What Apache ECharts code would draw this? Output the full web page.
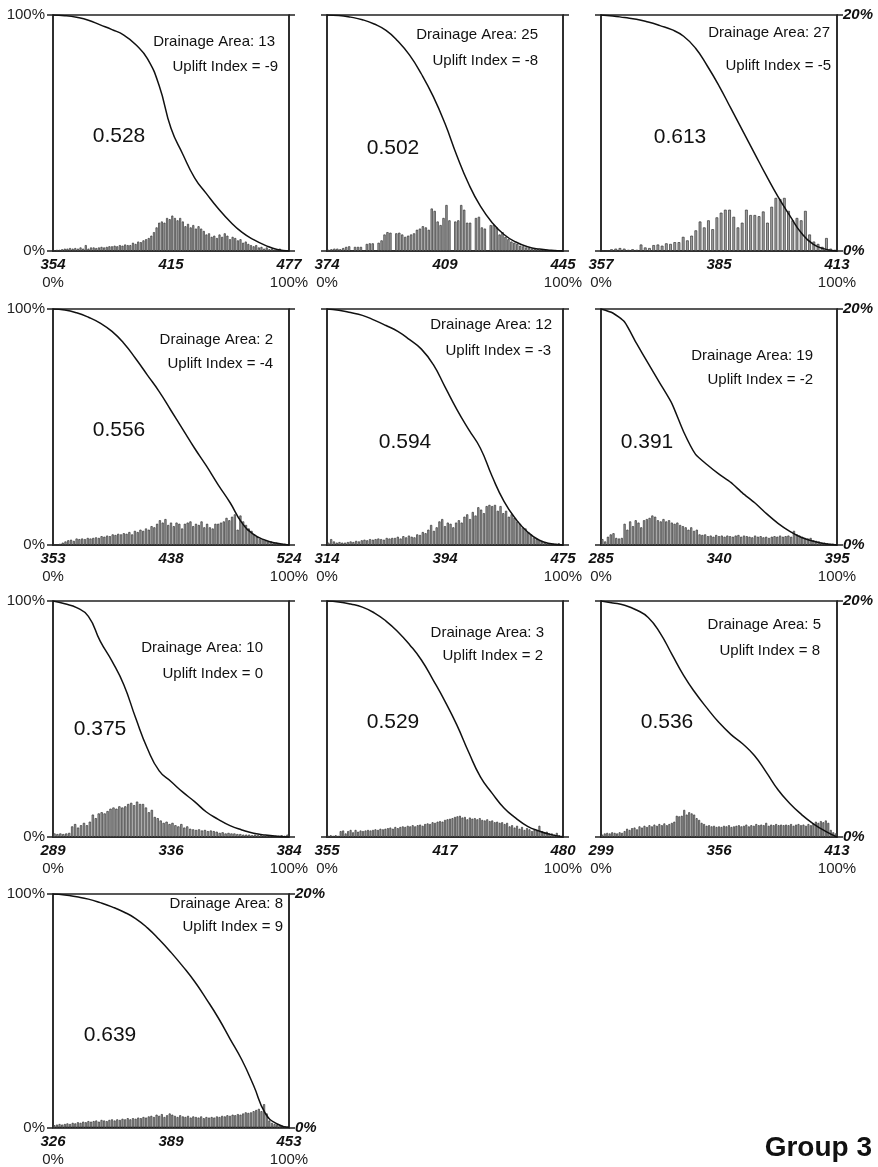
<!DOCTYPE html>
<html>
<head>
<meta charset="utf-8">
<title>Group 3</title>
<script src="https://cdn.jsdelivr.net/npm/echarts@6/dist/echarts.min.js"></script>
<style>
  html, body { margin: 0; padding: 0; background: #fff; }
  #chart { width: 878px; height: 1167px; }
</style>
</head>
<body>
<div id="chart"></div>
<script>
// panel labels
var elevMin = [354, 374, 357, 353, 314, 285, 289, 355, 299, 326];
var elevMid = [415, 409, 385, 438, 394, 340, 336, 417, 356, 389];
var elevMax = [477, 445, 413, 524, 475, 395, 384, 480, 413, 453];
var hiValues = ['0.528', '0.502', '0.613', '0.556', '0.594', '0.391', '0.375', '0.529', '0.536', '0.639'];
var drainageArea = [13, 25, 27, 2, 12, 19, 10, 3, 5, 8];
var upliftIndex = [-9, -8, -5, -4, -3, -2, 0, 2, 8, 9];

// hypsometric curves: relative height (%) at relative area curveX
var curveX = [0, 0.05, 0.1, 0.15, 0.2, 0.25, 0.3, 0.35, 0.4, 0.45, 0.5, 0.55, 0.6, 0.65, 0.7, 0.75, 0.8, 0.85, 0.9, 0.95, 1];
var curve1 = [100, 99.7, 99, 97.8, 95.8, 93.8, 91.5, 87.5, 81.5, 70, 52, 41, 31, 24.3, 18, 12.5, 8, 4.8, 2.4, 0.6, 0];
var curve2 = [100, 99.8, 99.1, 98, 96.2, 93.5, 89, 83, 75, 65.5, 54, 40.5, 28.5, 19, 12, 7, 3.8, 1.8, 0.8, 0.3, 0];
var curve3 = [100, 99.6, 98.9, 98.2, 97, 95.5, 93.8, 91, 86, 78.5, 70, 60.5, 51, 41.5, 32, 23, 15, 7.5, 2.8, 0.8, 0];
var curve4 = [100, 99.6, 98.4, 96.5, 94, 90.5, 85.5, 79, 72, 65, 57, 49, 41, 33.5, 25.5, 18, 9.5, 4.5, 2, 0.7, 0];
var curve5 = [100, 99.5, 98.5, 97.3, 95.3, 93, 90.5, 87, 83, 76.5, 67, 57.5, 49, 41, 29, 18.5, 11, 5.5, 2, 0.5, 0];
var curve6 = [100, 98.3, 94.5, 85.5, 77, 68.5, 60, 48, 38.5, 34, 30, 26.5, 22, 18, 13.4, 9.2, 5.8, 3.2, 1.6, 0.5, 0];
var curve7 = [100, 98.8, 97.2, 93.5, 83, 74.5, 64.5, 50.5, 37.5, 28, 23.5, 19, 15, 10.6, 7.5, 4.8, 3, 1.6, 0.8, 0.3, 0];
var curve8 = [100, 99.6, 98.7, 97.4, 95, 91.5, 87, 81.5, 75, 66.5, 57.5, 47.5, 36, 25.5, 18.5, 12.3, 8, 4.5, 2.5, 1, 0];
var curve9 = [100, 99.2, 98.2, 96.2, 93, 86.5, 77.5, 68.5, 61, 54.5, 48.5, 43.5, 39.5, 34.5, 27.5, 20, 14.2, 9.5, 5.6, 2.5, 0];
var curve10 = [100, 99.6, 98.8, 97.8, 96.3, 94.5, 92.3, 89.5, 85.5, 80.5, 75, 69, 62.5, 55, 47, 38, 29, 18, 6, 1.5, 0];

// elevation histograms (% of area per bin)
var hist1 = [0.05, 0.1, 0.1, 0.15, 0.2, 0.2, 0.25, 0.2, 0.25, 0.2, 0.3, 0.2, 0.5, 0.2, 0.3, 0.3, 0.25, 0.3, 0.35, 0.3,
  0.35, 0.4, 0.4, 0.45, 0.4, 0.5, 0.45, 0.55, 0.5, 0.5, 0.7, 0.6, 0.8, 0.75, 0.9, 1.0, 1.1, 1.3, 1.6, 2.0,
  2.4, 2.5, 2.4, 2.8, 2.7, 3.0, 2.8, 2.6, 2.8, 2.5, 2.1, 2.3, 2.0, 2.2, 1.9, 2.1, 1.9, 1.7, 1.4, 1.5,
  1.2, 1.3, 1.1, 1.4, 1.2, 1.5, 1.3, 1.0, 1.2, 1.1, 0.9, 1.0, 0.7, 0.8, 0.6, 0.5, 0.4, 0.5, 0.3, 0.35,
  0.2, 0.3, 0.15, 0.2, 0.1, 0.1, 0.2, 0.05, 0.05, 0.03];
var hist2 = [0.1, 0.15, 0.2, 0.2, 0.15, 0.25, 0.35, 0.4, 0, 0.35, 0.35, 0.35, 0, 0.6, 0.65, 0.65, 0, 0.7, 0.9, 1.4,
  1.6, 1.55, 0, 1.5, 1.55, 1.4, 1.2, 1.3, 1.4, 1.5, 1.8, 1.9, 2.1, 2.0, 1.8, 3.6, 3.4, 2.5, 2.2, 2.8,
  3.9, 2.6, 0, 2.5, 2.6, 3.9, 3.5, 2.4, 2.4, 0, 2.8, 2.9, 2.0, 1.9, 0, 2.2, 2.2, 2.0, 1.4, 1.6,
  1.2, 1.0, 0.8, 0.7, 0.6, 0.45, 0.4, 0.3, 0.25, 0.2, 0.2, 0.15, 0.1, 0.1, 0.1, 0.05, 0.05, 0.08, 0.05, 0.03];
var hist3 = [0.05, 0.05, 0.15, 0.2, 0.25, 0.2, 0.1, 0.15, 0.1, 0.55, 0.3, 0.25, 0.5, 0.55, 0.45, 0.65, 0.6, 0.75, 0.75, 1.2,
  0.9, 1.3, 1.75, 2.5, 2.0, 2.6, 1.85, 2.85, 3.25, 3.5, 3.5, 2.9, 2.0, 2.4, 3.5, 3.05, 3.05, 2.95, 3.35, 2.4,
  3.75, 4.5, 4.4, 4.5, 3.4, 2.6, 2.8, 2.6, 3.4, 1.4, 0.8, 0.6, 0.35, 1.1, 0.2, 0.1];
var hist4 = [0, 0.05, 0.1, 0.2, 0.3, 0.4, 0.45, 0.35, 0.55, 0.5, 0.55, 0.5, 0.6, 0.55, 0.6, 0.65, 0.6, 0.75, 0.7, 0.8,
  0.75, 0.9, 0.85, 0.95, 0.9, 1.0, 0.95, 1.1, 0.9, 1.2, 1.1, 1.3, 1.2, 1.4, 1.3, 1.6, 1.5, 1.8, 2.1, 1.9,
  2.2, 1.7, 1.9, 1.6, 1.9, 1.8, 1.4, 1.8, 1.9, 2.0, 1.6, 1.8, 1.7, 2.0, 1.5, 1.8, 1.5, 1.4, 1.8, 1.8,
  1.9, 2.0, 2.3, 2.1, 2.4, 2.6, 1.3, 2.5, 2.0, 1.7, 1.4, 1.2, 0.9, 0.7, 0.5, 0.5, 0.4, 0.3, 0.3, 0.2,
  0.2, 0.15, 0.1, 0.1, 0.05];
var hist5 = [0.2, 0.5, 0.3, 0.2, 0.25, 0.2, 0.2, 0.25, 0.3, 0.25, 0.35, 0.3, 0.4, 0.45, 0.4, 0.5, 0.45, 0.5, 0.55, 0.5,
  0.45, 0.6, 0.55, 0.6, 0.6, 0.7, 0.55, 0.75, 0.65, 0.8, 0.7, 0.65, 0.9, 0.85, 1.1, 1.0, 1.3, 1.7, 1.2, 1.5,
  2.0, 2.2, 1.6, 1.9, 1.8, 1.5, 1.9, 2.1, 1.9, 2.4, 2.6, 2.2, 2.8, 2.5, 3.2, 3.0, 2.7, 3.3, 3.4, 3.3,
  3.4, 2.9, 3.3, 2.7, 2.9, 2.4, 2.6, 2.3, 2.0, 1.8, 1.5, 1.4, 1.1, 0.9, 0.6, 0.5, 0.4, 0.3, 0.2, 0.15,
  0.15, 0.1, 0.1, 0.15, 0.05];
var hist6 = [0.5, 0.3, 0.7, 0.9, 1.0, 0.6, 0.55, 0.6, 1.8, 1.3, 2.0, 1.6, 2.1, 1.9, 1.5, 2.1, 2.2, 2.3, 2.5, 2.4,
  2.1, 2.0, 2.2, 2.0, 2.1, 1.9, 1.8, 1.9, 1.7, 1.6, 1.5, 1.3, 1.5, 1.2, 1.3, 0.9, 0.85, 0.9, 0.75, 0.8,
  0.7, 0.85, 0.75, 0.8, 0.7, 0.8, 0.75, 0.7, 0.8, 0.85, 0.7, 0.8, 0.75, 0.7, 0.65, 0.8, 0.7, 0.75, 0.65, 0.7,
  0.6, 0.7, 0.75, 0.7, 0.8, 0.7, 0.75, 0.8, 0.7, 1.2, 0.9, 0.8, 0.7, 0.6, 0.55, 0.6, 0.4, 0.35, 0.3, 0.2,
  0.2, 0.15, 0.1, 0.1, 0.05];
var hist7 = [0.3, 0.25, 0.3, 0.25, 0.3, 0.35, 0.9, 1.1, 0.8, 1.0, 1.2, 1.0, 1.3, 1.9, 1.6, 2.0, 2.1, 2.0, 2.2, 2.4,
  2.5, 2.4, 2.6, 2.5, 2.6, 2.8, 2.9, 2.7, 3.0, 2.8, 2.8, 2.5, 2.1, 2.3, 1.7, 1.6, 1.4, 1.2, 1.3, 1.1,
  1.2, 1.0, 0.9, 1.1, 0.8, 0.9, 0.7, 0.65, 0.6, 0.65, 0.55, 0.6, 0.5, 0.55, 0.5, 0.45, 0.35, 0.4, 0.3, 0.35,
  0.3, 0.3, 0.25, 0.25, 0.2, 0.2, 0.2, 0.15, 0.2, 0.15, 0.15, 0.1, 0.15, 0.1, 0.1, 0.1, 0.1, 0.15, 0.1, 0.2];
var hist8 = [0.1, 0.15, 0.1, 0.15, 0.1, 0.5, 0.55, 0.3, 0.5, 0.6, 0.4, 0.6, 0.45, 0.55, 0.5, 0.55, 0.6, 0.55, 0.6, 0.65,
  0.6, 0.7, 0.65, 0.7, 0.75, 0.8, 0.7, 0.85, 0.75, 0.85, 0.9, 0.85, 0.95, 0.9, 1.0, 0.9, 1.0, 1.05, 0.95, 1.1,
  1.15, 1.1, 1.25, 1.2, 1.3, 1.35, 1.3, 1.45, 1.5, 1.55, 1.6, 1.7, 1.75, 1.8, 1.65, 1.7, 1.5, 1.65, 1.55, 1.6,
  1.5, 1.6, 1.45, 1.4, 1.5, 1.35, 1.4, 1.25, 1.3, 1.2, 1.25, 1.1, 1.2, 0.9, 1.0, 0.8, 0.95, 0.7, 0.85, 0.6,
  0.75, 0.65, 0.5, 0.6, 0.55, 0.95, 0.5, 0.4, 0.45, 0.3, 0.3, 0.2, 0.35, 0.15, 0.1];
var hist9 = [0.2, 0.3, 0.35, 0.3, 0.4, 0.35, 0.3, 0.4, 0.35, 0.5, 0.7, 0.6, 0.75, 0.8, 0.65, 0.9, 0.8, 0.95, 0.85, 1.0,
  0.9, 1.05, 0.95, 1.1, 1.0, 1.15, 1.0, 1.1, 1.2, 1.3, 1.8, 1.75, 1.8, 2.3, 1.9, 2.1, 2.0, 1.9, 1.6, 1.45,
  1.2, 1.1, 0.95, 1.0, 0.9, 0.95, 0.85, 0.9, 0.85, 0.95, 0.9, 1.0, 0.85, 0.9, 0.95, 1.0, 0.9, 0.95, 1.05, 0.9,
  1.0, 0.95, 1.1, 1.0, 1.05, 1.0, 1.2, 0.95, 1.05, 1.0, 1.1, 1.0, 1.05, 1.0, 1.05, 1.0, 1.1, 0.95, 1.05, 1.1,
  1.0, 1.05, 0.95, 1.1, 1.0, 1.15, 1.3, 1.2, 1.35, 1.25, 1.4, 1.2, 0.6, 0.4, 0.3];
var hist10 = [0.2, 0.25, 0.3, 0.25, 0.3, 0.35, 0.3, 0.4, 0.35, 0.45, 0.4, 0.5, 0.45, 0.55, 0.5, 0.55, 0.6, 0.5, 0.65, 0.6,
  0.55, 0.65, 0.7, 0.6, 0.7, 0.65, 0.75, 0.7, 0.8, 0.7, 0.8, 0.75, 0.85, 0.8, 0.9, 0.85, 0.95, 1.0, 0.9, 1.1,
  1.0, 1.15, 0.9, 1.05, 1.2, 1.1, 1.0, 0.9, 1.05, 0.95, 0.9, 1.0, 0.85, 0.95, 0.9, 0.85, 0.95, 0.8, 0.9, 0.85,
  0.9, 0.85, 0.95, 0.9, 1.0, 0.95, 1.05, 1.0, 1.1, 1.05, 1.15, 1.1, 1.2, 1.3, 1.25, 1.3, 1.4, 1.5, 1.6, 1.4,
  2.0, 1.2, 0.6, 0.4, 0.3, 0.25, 0.2, 0.15, 0.1, 0.05];

var curves = [curve1, curve2, curve3, curve4, curve5, curve6, curve7, curve8, curve9, curve10];
var hists = [hist1, hist2, hist3, hist4, hist5, hist6, hist7, hist8, hist9, hist10];

// layout (pixels)
var colLeft = [53, 327, 601];
var rowTop = [15, 309, 601, 894];
var boxSize = 236;
// [hiX, hiY, areaRight, areaY, upliftRight, upliftY] measured from the box top-left / top-right
var notePos = [
  [66, 121, 14, 27, 11, 52],
  [66, 133, 25, 20, 25, 46],
  [79, 122, 7, 18, 6, 51],
  [66, 121, 16, 31, 16, 55],
  [78, 133, 11, 16, 12, 42],
  [46, 133, 24, 47, 24, 71],
  [47, 128, 26, 47, 26, 73],
  [66, 121, 19, 32, 20, 55],
  [66, 121, 16, 24, 17, 50],
  [57, 141, 6, 10, 6, 33]
];

var fontFam = 'Liberation Sans, Arial, sans-serif';
var axisColor = '#222';

function lineStyleA() { return { color: axisColor, width: 1.5 }; }

function xLabelFormatter(k) {
  return function (v) {
    if (v === 0) return '{e|' + elevMin[k] + '}\n{p|0%}';
    if (v === 1) return '{e|' + elevMax[k] + '}\n{p|100%}';
    return '{e|' + elevMid[k] + '}';
  };
}

function buildOption() {
  var grids = [], xAxes = [], yAxes = [], series = [], graphics = [];

  for (var i = 0; i < 10; i++) {
    var col = i % 3, row = Math.floor(i / 3);
    var boxLeft = colLeft[col], boxTop = rowTop[row];
    var showRight = (col === 2 || i === 9);

    grids.push({
      left: boxLeft, top: boxTop, width: boxSize, height: boxSize,
      show: true, borderColor: axisColor, borderWidth: 1.5
    });

    // area axis (0-100%) carrying the elevation labels
    xAxes.push({
      gridIndex: i, type: 'value', min: 0, max: 1, interval: 0.5,
      axisLine: { show: true, lineStyle: lineStyleA() },
      axisTick: { show: false }, splitLine: { show: false },
      axisLabel: {
        margin: 5,
        formatter: xLabelFormatter(i),
        rich: {
          e: { fontFamily: fontFam, fontSize: 15, fontWeight: 'bold', fontStyle: 'italic', color: '#111', lineHeight: 18 },
          p: { fontFamily: fontFam, fontSize: 15, color: '#222', lineHeight: 18 }
        }
      }
    });
    // elevation bins for the histogram
    var cats = [];
    for (var j = 0; j < hists[i].length; j++) cats.push(String(j));
    xAxes.push({ gridIndex: i, type: 'category', show: false, data: cats });

    yAxes.push({
      gridIndex: i, type: 'value', position: 'left', min: 0, max: 100, interval: 100,
      axisLine: { show: true, lineStyle: lineStyleA() }, splitLine: { show: false },
      axisTick: { show: true, length: 6, lineStyle: lineStyleA() },
      axisLabel: { show: col === 0, formatter: '{value}%', margin: 8, fontFamily: fontFam, fontSize: 15, color: '#222' }
    });
    yAxes.push({
      gridIndex: i, type: 'value', position: 'right', min: 0, max: 20, interval: 20,
      axisLine: { show: true, lineStyle: lineStyleA() }, splitLine: { show: false },
      axisTick: { show: true, length: 6, lineStyle: lineStyleA() },
      axisLabel: {
        show: showRight, formatter: '{value}%', margin: 6, fontFamily: fontFam, fontSize: 15,
        fontWeight: 'bold', fontStyle: 'italic', color: '#111'
      }
    });

    series.push({
      type: 'bar', xAxisIndex: 2 * i + 1, yAxisIndex: 2 * i + 1,
      data: hists[i], barCategoryGap: i === 2 ? '35%' : '22%', silent: true,
      itemStyle: { color: '#a0a0a0', borderColor: '#333', borderWidth: 0.7 }
    });
    var pts = [];
    for (var m = 0; m < curveX.length; m++) pts.push([curveX[m], curves[i][m]]);
    series.push({
      type: 'line', xAxisIndex: 2 * i, yAxisIndex: 2 * i, z: 5,
      data: pts, smooth: i === 5 ? 0.2 : 0.5, showSymbol: false, silent: true,
      lineStyle: { color: '#111', width: 1.5 }
    });

    var np = notePos[i];
    graphics.push({
      type: 'text', x: boxLeft + np[0], y: boxTop + np[1], silent: true,
      style: { text: hiValues[i], fill: '#111', font: '21px ' + fontFam, textAlign: 'center', textVerticalAlign: 'middle' }
    });
    graphics.push({
      type: 'text', x: boxLeft + boxSize - np[2], y: boxTop + np[3], silent: true,
      style: { text: 'Drainage Area: ' + drainageArea[i], fill: '#111', font: '15px ' + fontFam, textAlign: 'right', textVerticalAlign: 'middle' }
    });
    graphics.push({
      type: 'text', x: boxLeft + boxSize - np[4], y: boxTop + np[5], silent: true,
      style: { text: 'Uplift Index = ' + upliftIndex[i], fill: '#111', font: '15px ' + fontFam, textAlign: 'right', textVerticalAlign: 'middle' }
    });
  }

  graphics.push({
    type: 'text', x: 872, y: 1148, silent: true,
    style: { text: 'Group 3', fill: '#111', font: 'bold 28px ' + fontFam, textAlign: 'right', textVerticalAlign: 'middle' }
  });

  return {
    animation: false,
    backgroundColor: '#fff',
    grid: grids,
    xAxis: xAxes,
    yAxis: yAxes,
    series: series,
    graphic: graphics
  };
}

var chart = echarts.init(document.getElementById('chart'));
chart.setOption(buildOption());
</script>
</body>
</html>
